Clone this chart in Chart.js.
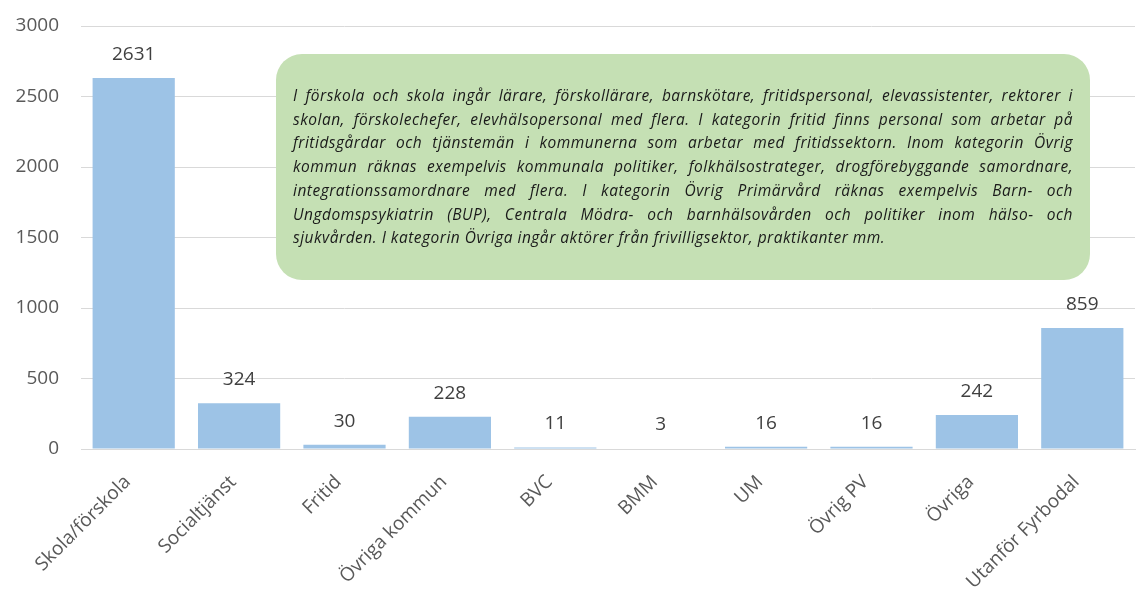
<!DOCTYPE html>
<html>
<head>
<meta charset="utf-8">
<title>Fyrbodal</title>
<script src="https://cdn.jsdelivr.net/npm/chart.js"></script>
<style>
  body { margin: 0; background: #fff; }
  #wrap { width: 1137px; height: 594px; }
</style>
</head>
<body>
<div id="wrap"><canvas id="barChart"></canvas></div>
<script>
var categories = ['Skola/förskola', 'Socialtjänst', 'Fritid', 'Övriga kommun', 'BVC', 'BMM', 'UM', 'Övrig PV', 'Övriga', 'Utanför Fyrbodal'];
var values = [2631, 324, 30, 228, 11, 3, 16, 16, 242, 859];
var yTicks = [0, 500, 1000, 1500, 2000, 2500, 3000];

var noteLines = [
  'I förskola och skola ingår lärare, förskollärare, barnskötare, fritidspersonal, elevassistenter, rektorer i',
  'skolan, förskolechefer, elevhälsopersonal med flera. I kategorin fritid finns personal som arbetar på',
  'fritidsgårdar och tjänstemän i kommunerna som arbetar med fritidssektorn. Inom kategorin Övrig',
  'kommun räknas exempelvis kommunala politiker, folkhälsostrateger, drogförebyggande samordnare,',
  'integrationssamordnare med flera. I kategorin Övrig Primärvård räknas exempelvis Barn- och',
  'Ungdomspsykiatrin (BUP), Centrala Mödra- och barnhälsovården och politiker inom hälso- och',
  'sjukvården. I kategorin Övriga ingår aktörer från frivilligsektor, praktikanter mm.'
];

// value labels above bars
var valueLabels = {
  id: 'valueLabels',
  afterDatasetsDraw: function(chart) {
    var ctx = chart.ctx;
    var meta = chart.getDatasetMeta(0);
    ctx.save();
    ctx.font = '19px "Open Sans"';
    ctx.fillStyle = '#404040';
    ctx.textAlign = 'center';
    ctx.textBaseline = 'bottom';
    meta.data.forEach(function(bar, i) {
      ctx.fillText(values[i], bar.x, bar.y - 14);
    });
    ctx.restore();
  }
};

// green note box with justified italic text
var noteBox = {
  id: 'noteBox',
  afterDraw: function(chart) {
    var ctx = chart.ctx;
    var x = 276, y = 54, w = 814, h = 226, r = 26;
    ctx.save();
    ctx.fillStyle = '#C5E0B4';
    ctx.beginPath();
    ctx.roundRect(x, y, w, h, r);
    ctx.fill();

    ctx.fillStyle = '#1a1a1a';
    ctx.font = 'italic 15.5px "Open Sans"';
    ctx.letterSpacing = '0.5px';
    ctx.textBaseline = 'alphabetic';
    var left = 293, right = 1073, lineH = 23.7, base = 101;
    noteLines.forEach(function(line, i) {
      var yy = base + i * lineH;
      if (i === noteLines.length - 1) {
        ctx.fillText(line, left, yy);
        return;
      }
      var words = line.split(' ');
      var total = 0;
      words.forEach(function(wd) { total += ctx.measureText(wd).width; });
      var gap = (right - left - total) / (words.length - 1);
      var cx = left;
      words.forEach(function(wd) {
        ctx.fillText(wd, cx, yy);
        cx += ctx.measureText(wd).width + gap;
      });
    });
    ctx.restore();
  }
};

var ctx = document.getElementById('barChart').getContext('2d');
new Chart(ctx, {
  type: 'bar',
  data: {
    labels: categories,
    datasets: [{
      data: values,
      backgroundColor: '#9DC3E6',
      categoryPercentage: 1,
      barPercentage: 0.78
    }]
  },
  options: {
    responsive: true,
    maintainAspectRatio: false,
    animation: false,
    layout: { padding: { left: 8, right: 2, top: 26, bottom: 0 } },
    plugins: {
      legend: { display: false },
      tooltip: { enabled: false }
    },
    scales: {
      x: {
        grid: { display: false, drawTicks: false },
        border: { color: '#d9d9d9', width: 1 },
        ticks: {
          color: '#595959',
          font: { family: 'Open Sans', size: 19 },
          minRotation: 45,
          maxRotation: 45,
          padding: 22,
          labelOffset: -6
        },
        afterFit: function(axis) {
          axis.paddingLeft = 0;
          axis.paddingRight = 0;
          axis.height = 145;
        }
      },
      y: {
        min: 0,
        max: 3000,
        afterBuildTicks: function(axis) {
          axis.ticks = yTicks.map(function(v) { return { value: v }; });
        },
        grid: { color: '#d9d9d9', drawTicks: false },
        border: { display: false },
        ticks: {
          color: '#595959',
          font: { family: 'Open Sans', size: 19 },
          padding: 22,
          callback: function(v) { return String(v); }
        },
        afterFit: function(axis) {
          axis.paddingTop = 0;
          axis.paddingBottom = 0;
          axis.width = 73;
        }
      }
    }
  },
  plugins: [valueLabels, noteBox]
});
</script>
</body>
</html>
